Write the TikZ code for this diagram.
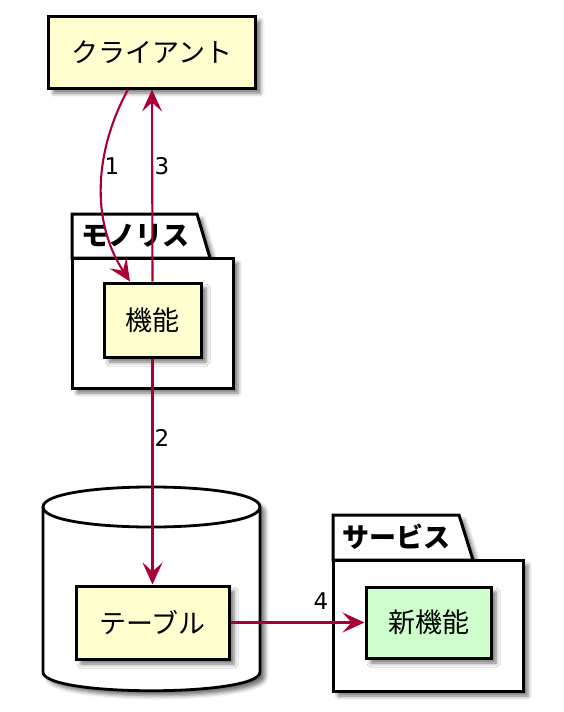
\documentclass[tikz,border=0pt]{standalone}
\usepackage{fontspec}
\setmainfont{DejaVu Sans}
\newfontfamily\jp{Noto Sans CJK JP}
\usetikzlibrary{arrows.meta,shadows.blur}
\definecolor{boxfill}{HTML}{FEFECE}
\definecolor{newfill}{HTML}{CCFFCC}
\definecolor{arr}{HTML}{A80036}
\tikzset{
  sh/.style={blur shadow={shadow xshift=5pt,shadow yshift=-5pt,shadow blur radius=4pt,shadow opacity=55}},
  comp/.style={draw=black,line width=3pt,fill=boxfill,sh,font=\jp\fontsize{27}{32}\selectfont,inner sep=0pt},
  pkg/.style={draw=black,line width=3pt,fill=white,line join=miter},
  pkglabel/.style={anchor=west,inner sep=0pt,font=\jp\bfseries\fontsize{27}{32}\selectfont},
  edge/.style={draw=arr,line width=2.1pt,-{Stealth[length=22pt,width=20pt,inset=9pt]}},
  lbl/.style={font=\fontsize{23}{28}\selectfont,text=black,inner sep=0pt}
}
\begin{document}
\begin{tikzpicture}[x=1pt,y=-1pt]
\useasboundingbox (0,0) rectangle (564,712);
% package monolith
\draw[pkg,sh] (72,258) -- (72,214) -- (197,214) -- (210,258) -- cycle;
\draw[pkg,sh] (72,258) rectangle (233,388);
\node[pkglabel] (monolabel) at (81,236) {モノリス};
% package service
\draw[pkg,sh] (333,560) -- (333,515) -- (459,515) -- (473,560) -- cycle;
\draw[pkg,sh] (333,560) rectangle (523,691);
\node[pkglabel] (servlabel) at (342,537) {サービス};
% database
\path[draw=black,line width=2.8pt,fill=white,sh] (43,507) -- (43,672) .. controls (43,697) and (260,697) .. (260,672) -- (260,507) .. controls (260,480.3) and (43,480.3) .. (43,507) -- cycle;
\draw[black,line width=2.8pt] (43,507) .. controls (43,533.7) and (260,533.7) .. (260,507);
% components
\node[comp,minimum width=207pt,minimum height=72pt] (client) at (152,52) {クライアント};
\node[comp,minimum width=97pt,minimum height=74pt] (kino) at (152.5,320) {機能};
\node[comp,minimum width=153pt,minimum height=73pt] (table) at (152.5,622.5) {テーブル};
\node[comp,fill=newfill,minimum width=125pt,minimum height=71pt] (newkino) at (428.5,622.5) {新機能};
% edges
\draw[edge] ([xshift=-24pt]client.south) .. controls (95,150) and (90,220) .. ([xshift=-22.5pt]kino.north);
\draw[edge] (kino.north) -- (client.south);
\draw[edge] (kino.south) -- (table.north);
\draw[edge] (table.east) -- (newkino.west);
% labels
\node[lbl] (l1) at (112,166) {1};
\node[lbl] (l3) at (162,166) {3};
\node[lbl] (l2) at (162,438) {2};
\node[lbl] (l4) at (321,601) {4};
\end{tikzpicture}
\end{document}
